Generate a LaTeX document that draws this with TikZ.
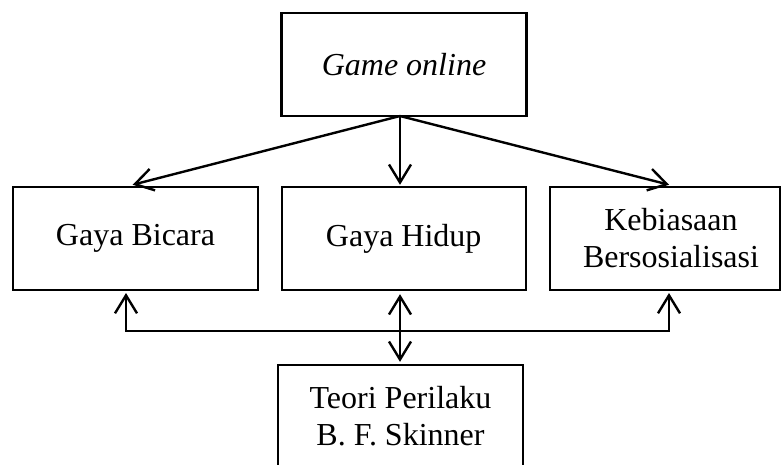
\documentclass[tikz,border=0pt]{standalone}
\usepackage{fontspec}
\setmainfont{Liberation Serif}
\usetikzlibrary{arrows.meta,calc}
\begin{document}
\begin{tikzpicture}[x=1pt,y=-1pt,line width=2.4pt,
  box/.style={draw,rectangle,inner sep=0pt,align=center,font=\fontsize{32}{37}\selectfont},
  tip/.tip={Straight Barb[length=18pt,width=22pt,line width=2.4pt]},
  arr/.style={-tip},
  arrboth/.style={tip-tip}]
\useasboundingbox (0,0) rectangle (781,464);
\clip (0,0) rectangle (781,464);
\node[box,minimum width=245pt,minimum height=103pt] (game) at (404,64.5) {\textit{Game online}};
\node[box,minimum width=245pt,minimum height=103pt] (bicara) at (135.5,238.5) {Gaya Bicara};
\node[box,minimum width=244pt,minimum height=103pt] (hidup) at (403.7,238.5) {Gaya Hidup};
\node[box,minimum width=230pt,minimum height=103pt] (sosial) at (665,238.5) {\hspace*{12pt}Kebiasaan\\\hspace*{12pt}Bersosialisasi};
\node[box,minimum width=245pt,minimum height=102pt] (teori) at (400.5,416) {Teori Perilaku\\B. F. Skinner};
% source and target points
\coordinate (src) at (400,116);
\coordinate (lt) at (131.7,185);
\coordinate (rt) at (670,185);
\coordinate (lb) at (126,290);
\coordinate (rb) at (669,290);
\coordinate (lbus) at (126,331);
\coordinate (rbus) at (669,331);
\coordinate (mx) at (400,331);
% top arrows
\draw[arr,shorten >=1pt] (src) -- (lt);
\draw[arr,shorten >=1pt] (src) -- (hidup.north -| src);
\draw[arr,shorten >=1pt] (src) -- (rt);
% bottom bus
\draw[arrboth,shorten <=3pt,shorten >=3pt] (lb) -- (lbus) -- (rbus) -- (rb);
\draw[arrboth,shorten <=3pt,shorten >=2pt] (hidup.south -| mx) -- (teori.north -| mx);
\end{tikzpicture}
\end{document}
